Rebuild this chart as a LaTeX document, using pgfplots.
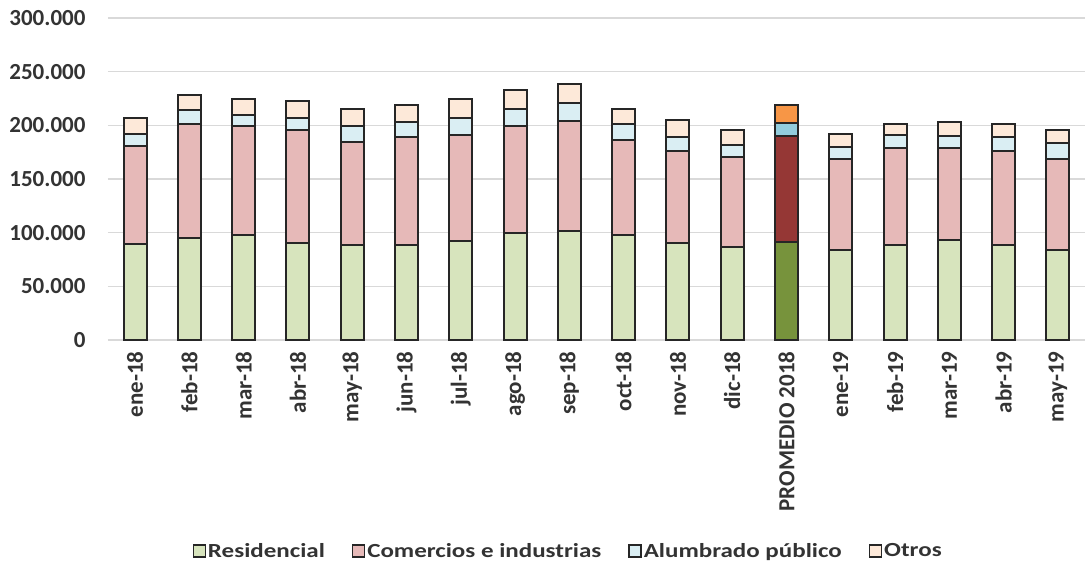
\documentclass[border=0pt]{standalone}
\usepackage{fontspec}
\setmainfont{Carlito}
\newfontfamily\legfont[FakeStretch=1.25]{Carlito}
\usepackage{pgfplots}
\usepackage{pgfplotstable}
\pgfplotsset{compat=1.18}
\definecolor{cRes}{HTML}{D7E4BD}
\definecolor{cCom}{HTML}{E6B9B8}
\definecolor{cAlu}{HTML}{DAEEF3}
\definecolor{cOtr}{HTML}{FDE9D9}
\definecolor{pRes}{HTML}{77933C}
\definecolor{pCom}{HTML}{953735}
\definecolor{pAlu}{HTML}{93CDDD}
\definecolor{pOtr}{HTML}{F79646}
\definecolor{gridc}{HTML}{D9D9D9}
\definecolor{edge}{HTML}{262626}
\definecolor{txt}{HTML}{333333}

\pgfplotstableread{
x  res    com    alu    otr
0  89100  92000  10800  14900
1  94700  106500 12800  14000
2  98100  101000 10800  14300
3  90700  105300 10800  16200
4  88800  96000  14600  16100
5  88800  100300 14000  15800
6  92500  98200  15800  17700
7  100000 99400  16100  17700
8  101600 102400 16500  18000
9  97800  88800  14300  14600
10 90100  86000  12700  16500
11 86600  84200  10600  14600
13 83900  84400  11800  12100
14 88800  90400  11500  10500
15 92900  86300  10900  12700
16 88800  87300  12700  12400
17 83900  84400  14900  12800
}\datamain

\pgfplotstableread{
x  res    com    alu    otr
12 91600  98800  11800  16700
}\dataprom

\pgfplotsset{
  base/.style={
    scale only axis, width=977pt, height=322pt,
    xmin=-0.5, xmax=17.5, ymin=0, ymax=300000,
    ybar stacked, bar width=23pt,
    axis line style={draw=none},
    major tick length=0pt,
  },
  barst/.style={draw=edge, line width=2pt, fill=#1},
}

\begin{document}
\begin{tikzpicture}
\useasboundingbox (-108pt,-226pt) rectangle (982pt,340pt);
\begin{axis}[base,
  ymajorgrids, major grid style={gridc, line width=1.4pt},
  ytick={0,50000,...,300000},
  scaled y ticks=false,
  /pgf/number format/1000 sep={.},
  /pgf/number format/fixed,
  /pgf/number format/precision=0,
  /pgf/number format/assume math mode=true,
  yticklabel style={font=\fontsize{23}{23}\selectfont\bfseries, color=txt, xshift=-19pt},
  xtick={0,...,17},
  xticklabels={ene-18,feb-18,mar-18,abr-18,may-18,jun-18,jul-18,ago-18,sep-18,oct-18,nov-18,dic-18,PROMEDIO 2018,ene-19,feb-19,mar-19,abr-19,may-19},
  xticklabel style={rotate=90, anchor=east, font=\fontsize{23}{23}\selectfont\bfseries, color=txt, xshift=-8pt},
  legend style={at={(0.471,-0.655)}, anchor=center, draw=none, fill=none,
    legend columns=-1, font=\fontsize{20}{20}\legfont\bfseries, text=txt,
    /tikz/every even column/.append style={column sep=25pt},
    legend cell align=left},
  legend image code/.code={\draw[#1, line width=1.4pt] (0pt,-6pt) rectangle (12pt,6pt);},
]
\addplot[barst=cRes] table[x=x,y=res]{\datamain};
\addplot[barst=cCom] table[x=x,y=com]{\datamain};
\addplot[barst=cAlu] table[x=x,y=alu]{\datamain};
\addplot[barst=cOtr] table[x=x,y=otr]{\datamain};
\legend{Residencial,Comercios e industrias,Alumbrado público,Otros}
\end{axis}
\begin{axis}[base, hide axis]
\addplot[barst=pRes] table[x=x,y=res]{\dataprom};
\addplot[barst=pCom] table[x=x,y=com]{\dataprom};
\addplot[barst=pAlu] table[x=x,y=alu]{\dataprom};
\addplot[barst=pOtr] table[x=x,y=otr]{\dataprom};
\end{axis}
\end{tikzpicture}
\end{document}
